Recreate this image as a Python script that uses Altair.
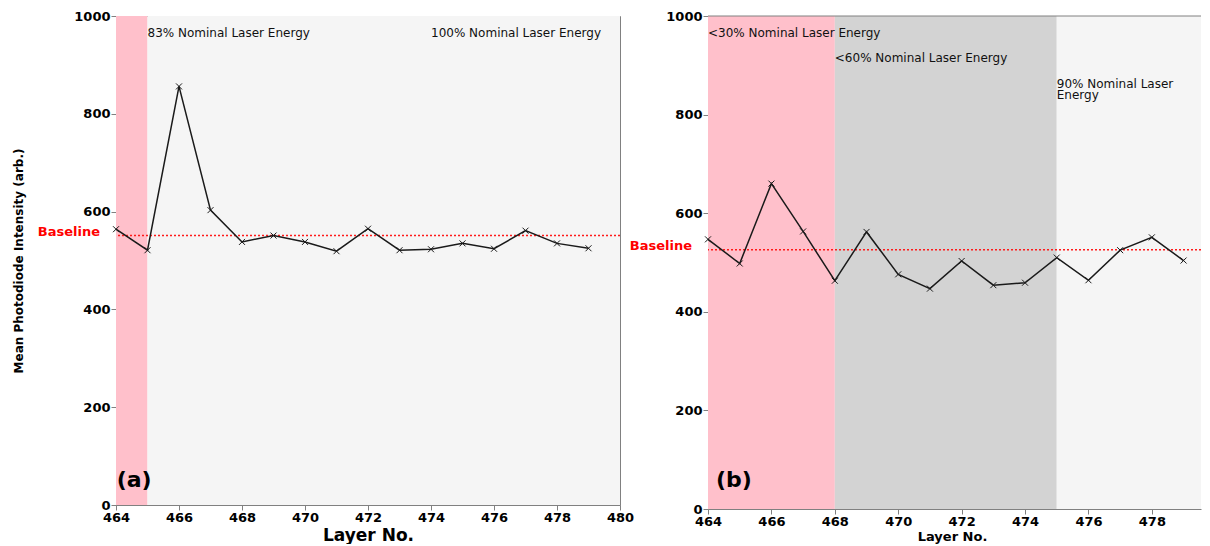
import altair as alt
import pandas as pd

FONT = "DejaVu Sans"

layers = list(range(464, 480))
left_vals = [564, 521, 856, 603, 538, 551, 538, 519, 565, 521, 523, 535, 524, 561, 535, 525]
right_vals = [547, 498, 660, 563, 463, 562, 476, 447, 503, 454, 459, 510, 464, 525, 551, 504]
left_baseline = 551
right_baseline = 526

left_band_start = [464, 465]
left_band_end = [465, 480]
left_band_color = ["#ffc0cb", "#f5f5f5"]
right_band_start = [464, 468, 475]
right_band_end = [468, 475, 480]
right_band_color = ["#ffc0cb", "#d3d3d3", "#f5f5f5"]

left_note_text = ["83% Nominal Laser Energy", "100% Nominal Laser Energy"]
left_note_x = [465.0, 474.0]
left_note_y = [975, 975]
right_note_text = ["<30% Nominal Laser Energy", "<60% Nominal Laser Energy", "90% Nominal Laser\nEnergy"]
right_note_x = [464.0, 468.0, 475.0]
right_note_y = [976, 925, 872]

x_ticks_left = list(range(464, 481, 2))
x_ticks_right = list(range(464, 479, 2))
y_ticks = [0, 200, 400, 600, 800, 1000]

SPINE = "#808080"


def panel(vals, baseline, bs, be, bc, nt, nx, ny, tag, tag_x, tag_y,
          width, height, xmax, xticks, ytitle, xtitle_size, xtitle_pad,
          xtitle_x=None, boxed=True):
    xs = alt.Scale(domain=[464, xmax], nice=False, zero=False)
    ys = alt.Scale(domain=[0, 1000], nice=False)
    xax_kw = dict(values=xticks, title="Layer No.", titleFontSize=xtitle_size,
                  titlePadding=xtitle_pad, labelFlush=False, format="d")
    if xtitle_x is not None:
        xax_kw["titleX"] = xtitle_x
    xax = alt.Axis(**xax_kw)
    yax_kw = dict(values=y_ticks, labelFlush=False, format="d")
    if ytitle:
        yax_kw.update(title=ytitle, titleFontSize=12, titlePadding=48)
    else:
        yax_kw.update(title=None)
    yax = alt.Axis(**yax_kw)

    df = pd.DataFrame({"layer": layers, "val": vals})
    bdf = pd.DataFrame({"x0": bs, "x1": [min(e, xmax) for e in be], "c": bc,
                        "y0": [0] * len(bs), "y1": [1000] * len(bs)})
    ndf = pd.DataFrame({"t": nt, "x": nx, "y": ny})
    bl = pd.DataFrame({"b": [baseline]})
    tdf = pd.DataFrame({"t": [tag], "x": [tag_x], "y": [tag_y]})
    topdf = pd.DataFrame({"top": [1000]})

    rect = alt.Chart(bdf).mark_rect().encode(
        x=alt.X("x0:Q", scale=xs, axis=xax),
        x2="x1:Q",
        y=alt.Y("y0:Q", scale=ys, axis=yax),
        y2="y1:Q",
        color=alt.Color("c:N", scale=None),
    )
    rule = alt.Chart(bl).mark_rule(color="#ff1a1a", strokeDash=[2, 2], strokeWidth=1.5).encode(
        y=alt.Y("b:Q", scale=ys, axis=yax)
    )
    blabel = alt.Chart(bl).mark_text(
        align="right", baseline="middle", font=FONT, fontWeight="bold",
        fontSize=13, color="red", dy=-4
    ).encode(
        x=alt.value(-16),
        y=alt.Y("b:Q", scale=ys, axis=yax),
        text=alt.value("Baseline"),
    )
    line = alt.Chart(df).mark_line(color="#1a1a1a", strokeWidth=1.5).encode(
        x=alt.X("layer:Q", scale=xs, axis=xax),
        y=alt.Y("val:Q", scale=ys, axis=yax),
    )
    pts = alt.Chart(df).mark_point(
        shape="M-1,-1L1,1M-1,1L1,-1", filled=False, stroke="#1a1a1a",
        strokeWidth=1, size=36, opacity=1
    ).encode(
        x=alt.X("layer:Q", scale=xs, axis=xax),
        y=alt.Y("val:Q", scale=ys, axis=yax),
    )
    notes = alt.Chart(ndf).mark_text(
        align="left", baseline="top", font=FONT, fontSize=12, color="#111",
        lineBreak="\n", lineHeight=11
    ).encode(
        x=alt.X("x:Q", scale=xs, axis=xax),
        y=alt.Y("y:Q", scale=ys, axis=yax),
        text="t:N",
    )
    tagt = alt.Chart(tdf).mark_text(
        align="left", baseline="middle", font=FONT, fontWeight="bold",
        fontSize=22, color="black"
    ).encode(
        x=alt.X("x:Q", scale=xs, axis=xax),
        y=alt.Y("y:Q", scale=ys, axis=yax),
        text="t:N",
    )
    layers_list = [rect, rule, line, pts, notes, tagt, blabel]
    props = dict(width=width, height=height)
    if boxed:
        props["view"] = alt.ViewBackground(stroke=SPINE, strokeWidth=1)
    else:
        toprule = alt.Chart(topdf).mark_rule(color=SPINE, strokeWidth=1).encode(
            y=alt.Y("top:Q", scale=ys, axis=yax)
        )
        layers_list.append(toprule)
        props["view"] = alt.ViewBackground(strokeWidth=0)
    return alt.layer(*layers_list).properties(**props)


left = panel(left_vals, left_baseline, left_band_start, left_band_end, left_band_color,
             left_note_text, left_note_x, left_note_y, "(a)", 464.02, 52,
             504, 489, 480, x_ticks_left, "Mean Photodiode Intensity (arb.)", 17, 3)
right = panel(right_vals, right_baseline, right_band_start, right_band_end, right_band_color,
              right_note_text, right_note_x, right_note_y, "(b)", 464.25, 59,
              493, 493, 479.55, x_ticks_right, None, 13, 2, xtitle_x=244, boxed=False)

chart = alt.hconcat(left, right, spacing=88, bounds="flush").properties(
    padding={"left": 4, "top": 1, "right": 0, "bottom": 0}
).configure_axis(
    labelFont=FONT, labelFontWeight="bold", labelFontSize=13, labelColor="black",
    titleFont=FONT, titleFontWeight="bold", titleColor="black",
    tickColor=SPINE, domainColor=SPINE, grid=False, tickSize=5,
    labelPadding=1,
)

chart.save("out.html", embed_options={"renderer": "svg", "actions": False})
